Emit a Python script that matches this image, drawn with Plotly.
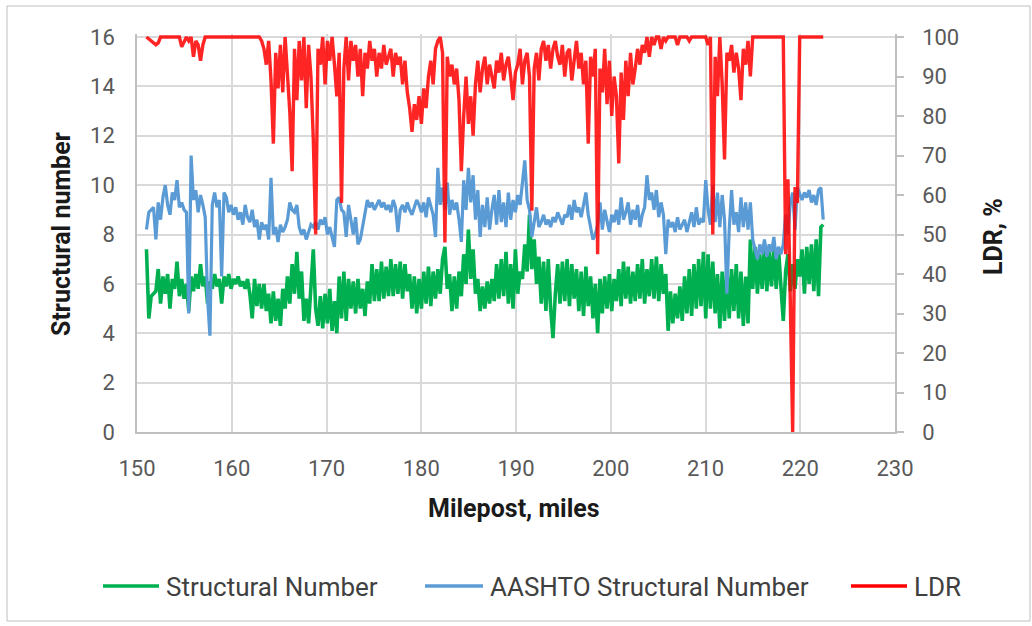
import plotly.graph_objects as go

# Survey readings along the route, one every 0.248 mile starting at milepost 151
START_MILE = 151.0
STEP_MILE = 0.248

structural_number = [
    7.4, 4.6, 5.5, 5.6,
    5.7, 6.6, 5.2, 6.3,
    5.6, 6.4, 5.0, 6.2,
    5.8, 6.9, 5.5, 6.2,
    5.4, 6.0, 4.9, 6.3,
    5.7, 6.4, 5.8, 6.8,
    5.9, 6.3, 5.2, 6.1,
    5.8, 6.4, 5.9, 6.2,
    5.2, 6.3, 5.9, 6.4,
    5.8, 6.2, 6.0, 6.3,
    5.9, 6.1, 5.8, 6.2,
    5.6, 4.6, 6.2, 5.1,
    6.0, 5.0, 6.0, 4.9,
    5.6, 4.4, 5.7, 4.5,
    5.4, 4.3, 5.8, 5.0,
    6.3, 5.2, 6.8, 5.6,
    7.3, 5.4, 6.5, 4.5,
    5.4, 4.4, 5.8, 7.4,
    5.0, 4.3, 5.5, 4.2,
    5.6, 4.4, 5.8, 4.1,
    5.3, 4.0, 6.3, 4.6,
    6.5, 4.5, 6.2, 5.0,
    6.1, 4.8, 6.2, 5.0,
    5.8, 4.7, 6.1, 5.2,
    6.8, 5.3, 6.6, 5.3,
    6.9, 5.4, 6.7, 5.5,
    7.0, 5.5, 6.8, 5.6,
    6.9, 5.4, 6.8, 5.7,
    6.4, 5.0, 6.3, 4.8,
    6.2, 5.0, 6.5, 5.2,
    6.7, 5.1, 6.5, 5.4,
    6.6, 5.6, 7.0, 7.5,
    5.8, 6.4, 4.9, 6.3,
    5.0, 6.5, 5.5, 7.2,
    6.0, 8.2, 6.2, 7.4,
    5.6, 6.2, 4.9, 5.9,
    5.0, 6.1, 5.2, 6.2,
    5.3, 6.8, 5.4, 7.0,
    5.5, 7.3, 5.2, 6.8,
    5.0, 7.4, 5.6, 6.5,
    6.2, 7.6, 6.5, 8.8,
    6.6, 7.8, 6.0, 7.1,
    5.2, 6.9, 4.9, 7.0,
    5.0, 3.8, 5.6, 6.8,
    5.2, 6.9, 5.3, 7.0,
    5.1, 6.8, 5.4, 6.6,
    4.9, 6.5, 4.7, 6.7,
    5.1, 6.3, 4.6, 6.0,
    4.0, 6.2, 4.8, 6.3,
    5.0, 6.4, 4.9, 6.2,
    5.3, 6.6, 5.1, 6.9,
    5.4, 6.7, 5.2, 6.5,
    5.3, 6.8, 5.4, 7.0,
    5.2, 6.6, 5.5, 7.0,
    5.4, 7.1, 5.3, 6.8,
    5.6, 6.4, 4.1, 5.7,
    4.4, 5.6, 4.6, 5.9,
    4.5, 6.3, 4.8, 6.6,
    4.7, 6.8, 5.0, 7.0,
    5.1, 7.3, 4.6, 7.2,
    5.0, 6.9, 4.8, 6.4,
    4.2, 6.5, 4.5, 6.7,
    4.6, 6.6, 4.9, 6.8,
    4.6, 6.5, 4.3, 6.3,
    4.4, 7.8, 5.8, 7.5,
    5.6, 7.2, 5.8, 7.6,
    5.7, 7.3, 5.9, 7.5,
    5.8, 7.4, 5.9, 4.5,
    6.5, 7.2, 5.7, 6.8,
    5.8, 7.0, 6.3, 7.4,
    5.6, 7.5, 6.0, 7.6,
    5.7, 7.8, 5.5, 8.3,
    8.4,
]

aashto_sn = [
    8.2, 8.9, 9.0, 9.1,
    7.8, 9.3, 8.6, 9.5,
    10.0, 9.2, 8.8, 9.7,
    9.4, 10.2, 9.1, 9.3,
    9.0, 8.9, 4.8, 11.2,
    9.4, 9.8, 8.9, 9.6,
    9.2, 8.7, 5.4, 3.9,
    9.2, 9.7, 9.1, 9.4,
    6.3, 9.7, 9.5, 8.9,
    9.2, 8.8, 9.1, 8.6,
    8.9, 8.4, 9.2, 8.7,
    8.5, 9.0, 8.3, 8.6,
    7.8, 8.5, 8.2, 8.4,
    7.8, 10.3, 8.0, 8.3,
    7.7, 8.4, 8.1, 8.3,
    8.6, 9.3, 9.0, 8.9,
    9.2, 8.3, 8.0, 8.2,
    7.8, 8.1, 8.4, 8.3,
    8.5, 8.2, 8.6, 8.4,
    8.7, 8.0, 8.3, 7.9,
    7.5, 9.4, 9.5, 9.0,
    8.9, 7.9, 9.2, 8.6,
    8.0, 8.7, 7.6, 7.8,
    8.4, 8.9, 9.4, 9.1,
    9.3, 9.0, 9.2, 9.4,
    9.1, 9.3, 9.0, 9.2,
    8.9, 9.4, 9.1, 8.1,
    9.0, 9.2, 8.9, 9.3,
    9.0, 8.8, 9.1, 9.4,
    9.2, 8.9, 9.3, 8.7,
    9.5, 9.2, 8.8, 7.9,
    10.7, 9.2, 9.9, 9.0,
    10.1, 8.8, 9.4, 9.0,
    9.3, 8.6, 7.7, 10.2,
    9.0, 10.7, 9.3, 10.4,
    8.6, 9.8, 7.9, 9.2,
    8.3, 9.5, 8.2, 9.0,
    9.6, 8.4, 9.8, 8.5,
    9.3, 8.3, 9.7, 8.6,
    9.4, 8.9, 9.6, 9.2,
    10.2, 11.0, 9.4, 9.0,
    7.9, 8.6, 9.1, 8.3,
    8.5, 8.8, 8.4, 8.6,
    8.3, 8.7, 8.5, 8.9,
    8.6, 8.4, 8.8, 8.7,
    9.2, 8.6, 9.4, 8.9,
    9.1, 8.7, 9.2, 9.7,
    8.8, 8.3, 7.8, 8.0,
    8.4, 9.3, 8.2, 9.0,
    8.6, 8.1, 8.8, 8.5,
    9.0, 8.4, 9.5, 8.6,
    8.9, 9.3, 8.4, 9.0,
    8.6, 9.2, 8.3, 8.8,
    9.1, 10.4, 9.4, 9.7,
    9.0, 9.8, 8.7, 9.3,
    8.8, 7.2, 8.6, 8.3,
    8.5, 8.1, 8.7, 8.2,
    8.4, 8.6, 8.1, 8.5,
    8.9, 8.3, 9.1, 8.4,
    8.6, 8.5, 10.2, 9.0,
    8.4, 10.0, 8.5, 9.7,
    8.3, 9.6, 8.6, 5.6,
    8.2, 9.8, 8.4, 8.9,
    8.1, 9.5, 8.3, 9.3,
    8.2, 9.3, 7.8, 7.4,
    7.0, 7.6, 7.2, 7.8,
    7.1, 7.6, 7.3, 7.9,
    7.0, 7.5, 7.2, 7.6,
    8.8, 8.0, 9.3, 9.7,
    8.2, 9.9, 9.6, 9.4,
    9.7, 9.5, 9.8, 9.3,
    9.6, 9.2, 9.8, 9.9,
    8.6,
]

ldr_percent = [
    100, 99.5, 99, 98.5,
    98, 98.5, 100, 100,
    100, 100, 100, 100,
    100, 100, 100, 97.5,
    99, 100, 99, 100,
    95, 99, 98, 94,
    98, 100, 100, 100,
    100, 100, 100, 100,
    100, 100, 100, 100,
    100, 100, 100, 100,
    100, 100, 100, 100,
    100, 100, 100, 100,
    100, 99, 97, 93,
    99, 89, 73, 96,
    87, 98, 86, 100,
    91, 81, 66, 97,
    84, 99, 89, 100,
    82, 98, 90, 74,
    50, 97, 93, 100,
    88, 99, 94, 100,
    93, 85, 96, 58,
    92, 100, 89, 99,
    94, 98, 90, 97,
    85, 96, 92, 99,
    94, 97, 90, 96,
    92, 98, 93, 95,
    97, 90, 96, 93,
    95, 88, 94, 86,
    82, 76, 83, 79,
    85, 78, 87, 82,
    90, 94, 88, 97,
    99, 100, 96, 48,
    95, 90, 93, 88,
    92, 84, 66, 80,
    90, 78, 85, 75,
    88, 94, 86, 92,
    95, 88, 93, 90,
    87, 94, 91, 96,
    89, 93, 95, 90,
    84, 91, 93, 97,
    88, 94, 96, 90,
    56, 92, 96, 89,
    97, 99, 94, 98,
    92, 97, 99, 95,
    93, 98, 90, 96,
    97, 89, 95, 99,
    92, 96, 88, 94,
    73, 95, 90, 97,
    45, 92, 86, 97,
    83, 94, 80, 90,
    85, 68, 91, 79,
    94, 85, 96, 88,
    92, 97, 93, 98,
    96, 100, 95, 100,
    98, 100, 100, 97,
    100, 99, 100, 100,
    100, 100, 98, 100,
    100, 100, 100, 99,
    100, 100, 100, 100,
    100, 100, 100, 98,
    100, 50, 95, 85,
    100, 88, 69, 96,
    94, 98, 91, 96,
    92, 84, 97, 93,
    99, 90, 100, 100,
    100, 100, 100, 100,
    100, 100, 100, 100,
    100, 100, 100, 100,
    45, 64, 33, 0,
    62, 58, 100, 100,
    100, 100, 100, 100,
    100, 100, 100, 100,
    100,
]


def mileposts(values):
    return [round(START_MILE + STEP_MILE * i, 3) for i in range(len(values))]


SERIES_NAMES = ["Structural Number", "AASHTO Structural Number", "LDR"]
COLORS = ["#00B050", "#5B9BD5", "#FF0000"]

X_RANGE = [150, 230]
Y_TICKS = [0, 2, 4, 6, 8, 10, 12, 14, 16]
Y2_TICKS = [0, 10, 20, 30, 40, 50, 60, 70, 80, 90, 100]
X_TICKS = [150, 160, 170, 180, 190, 200, 210, 220, 230]

FONT = "Roboto"
W, H = 1032, 626
# plot area in pixels
PL, PR, PT, PB = 137, 895, 34, 432
PH = PB - PT
# the top 3 px sit above the 16 / 100 gridline so full-width lines at 100 % are not clipped
Y_TOP = 16 * PH / (PH - 3)
Y2_TOP = 100 * PH / (PH - 3)


def px_x(px):
    return (px - PL) / (PR - PL)


def px_y(py):
    return (PB - py) / PH


fig = go.Figure()

fig.add_trace(go.Scatter(
    x=mileposts(structural_number), y=structural_number, name=SERIES_NAMES[0],
    mode="lines", line=dict(color=COLORS[0], width=3.6), showlegend=False,
))
fig.add_trace(go.Scatter(
    x=mileposts(aashto_sn), y=aashto_sn, name=SERIES_NAMES[1],
    mode="lines", line=dict(color=COLORS[1], width=3.2), showlegend=False,
))
fig.add_trace(go.Scatter(
    x=mileposts(ldr_percent), y=ldr_percent, name=SERIES_NAMES[2], yaxis="y2",
    mode="lines", line=dict(color=COLORS[2], width=3.4), opacity=0.85, showlegend=False,
))

axis_line = "#BFBFBF"
grid = "#D9D9D9"
tick_font = dict(family=FONT, size=22, color="#595959")
title_font = dict(family=FONT, size=25, color="#1A1A1A", weight="bold")

fig.update_layout(
    width=W, height=H,
    margin=dict(l=PL, r=W - PR, t=PT, b=H - PB, pad=0),
    paper_bgcolor="white", plot_bgcolor="white",
    font=dict(family=FONT),
    xaxis=dict(
        range=X_RANGE, tickvals=X_TICKS, ticktext=[str(v) for v in X_TICKS],
        showgrid=True, gridcolor=grid, gridwidth=1.5,
        showline=True, linecolor=axis_line, linewidth=1.5,
        ticks="", tickfont=tick_font, ticklabelstandoff=16,
        zeroline=False,
    ),
    yaxis=dict(
        range=[0, Y_TOP], tickvals=Y_TICKS, ticktext=[str(v) for v in Y_TICKS],
        showgrid=True, gridcolor=grid, gridwidth=1.5,
        showline=True, linecolor=axis_line, linewidth=1.5,
        ticks="", tickfont=tick_font, ticklabelstandoff=16,
        zeroline=False,
    ),
    yaxis2=dict(
        range=[0, Y2_TOP], tickvals=Y2_TICKS, ticktext=[str(v) for v in Y2_TICKS],
        overlaying="y", side="right", showgrid=False,
        showline=True, linecolor=axis_line, linewidth=1.5,
        ticks="outside", ticklen=7, tickcolor=axis_line, tickwidth=1.5,
        tickfont=tick_font, ticklabelstandoff=14,
        zeroline=False,
    ),
)

annotations = [
    dict(text="Milepost, miles", x=px_x(514), y=px_y(508), xref="paper", yref="paper",
         showarrow=False, font=title_font, xanchor="center", yanchor="middle"),
    dict(text="Structural number", x=px_x(62), y=px_y(234), xref="paper", yref="paper",
         showarrow=False, font=title_font, textangle=-90, xanchor="center", yanchor="middle"),
    dict(text="LDR, %", x=px_x(993), y=px_y(237), xref="paper", yref="paper",
         showarrow=False, font=title_font, textangle=-90, xanchor="center", yanchor="middle"),
]

shapes = [
    # chart border
    dict(type="rect", xref="paper", yref="paper",
         x0=px_x(7), x1=px_x(1030), y0=px_y(621), y1=px_y(6),
         line=dict(color="#BFBFBF", width=1), layer="below"),
]

# legend row along the bottom
legend_y = 586
legend_items = [(103, 159), (425, 483), (851, 907)]
for name, color, (lx0, lx1) in zip(SERIES_NAMES, COLORS, legend_items):
    shapes.append(dict(type="line", xref="paper", yref="paper",
                       x0=px_x(lx0), x1=px_x(lx1), y0=px_y(legend_y), y1=px_y(legend_y),
                       line=dict(color=color, width=3.5)))
    annotations.append(dict(text=name, x=px_x(lx1 + 5), y=px_y(legend_y + 1),
                            xref="paper", yref="paper", showarrow=False,
                            xanchor="left", yanchor="middle",
                            font=dict(family=FONT, size=26, color="#404040")))

fig.update_layout(annotations=annotations, shapes=shapes)

fig.write_html("out.html")
